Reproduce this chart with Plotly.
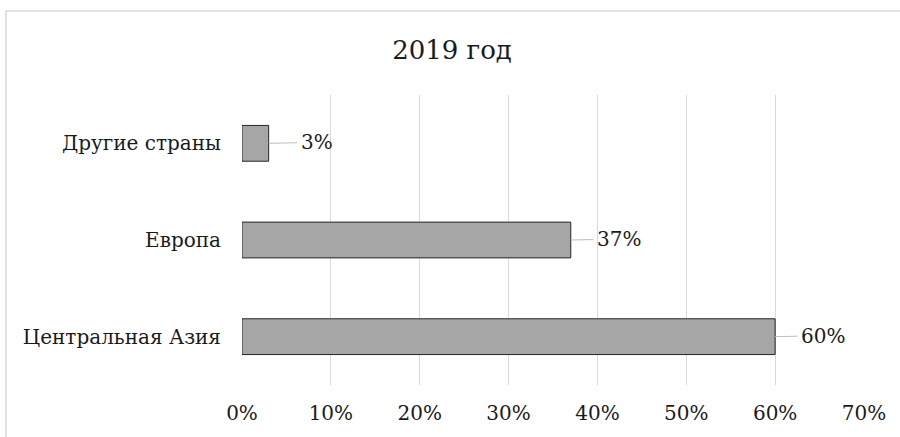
import plotly.graph_objects as go

categories = ["Центральная Азия", "Европа", "Другие страны"]
values = [60, 37, 3]
x_ticks = [0, 10, 20, 30, 40, 50, 60, 70]
x_tick_labels = ["0%", "10%", "20%", "30%", "40%", "50%", "60%", "70%"]
title_text = "2019 год"

FONT = "DejaVu Serif"
TXT = "#1a1a1a"
SZ = 20

fig = go.Figure()
fig.add_trace(go.Bar(
    x=values, y=categories, orientation="h",
    marker=dict(color="#a6a6a6", line=dict(color="#262626", width=1)),
    width=0.37, hoverinfo="skip",
))

for v, c in zip(values, categories):
    fig.add_annotation(
        x=v, y=c, xref="x", yref="y",
        text=f"{v}%", showarrow=True, arrowhead=0, arrowwidth=1,
        arrowcolor="#bfbfbf", ax=48, ay=-1, axref="pixel", ayref="pixel",
        font=dict(family=FONT, size=SZ, color=TXT),
        borderpad=3,
    )

W, H = 900, 437
L, T = 242, 95
pw, ph = 622, 290
R = W - L - pw
B = H - T - ph
fig.add_shape(
    type="rect", xref="paper", yref="paper",
    x0=(6 - L) / pw, x1=(W + 10 - L) / pw,
    y0=-(H + 10 - T - ph) / ph, y1=(H - 11 - B) / ph,
    line=dict(color="#d9d9d9", width=1.5), fillcolor="rgba(0,0,0,0)", layer="below",
)

fig.update_layout(
    width=W, height=H,
    margin=dict(l=L, r=R, t=T, b=B),
    paper_bgcolor="white", plot_bgcolor="white",
    showlegend=False,
    font=dict(family=FONT, size=SZ, color=TXT),
    title=dict(text=title_text, x=452 / W, xref="container", xanchor="center",
               y=1 - 50 / H, yref="container", yanchor="middle",
               font=dict(family=FONT, size=26, color=TXT)),
)
fig.update_xaxes(
    range=[0, 70], tickvals=x_ticks, ticktext=x_tick_labels,
    showgrid=True, gridcolor="#d9d9d9", gridwidth=1,
    zeroline=False, showline=False, ticks="",
    ticklabelstandoff=14,
    tickfont=dict(family=FONT, size=SZ, color=TXT),
)
fig.update_yaxes(
    showgrid=False, zeroline=False, showline=False, ticks="",
    ticklabelstandoff=20,
    tickfont=dict(family=FONT, size=SZ, color=TXT),
)

fig.write_html("out.html", config={"displayModeBar": False},
               post_script="document.body.style.margin='0px';")
